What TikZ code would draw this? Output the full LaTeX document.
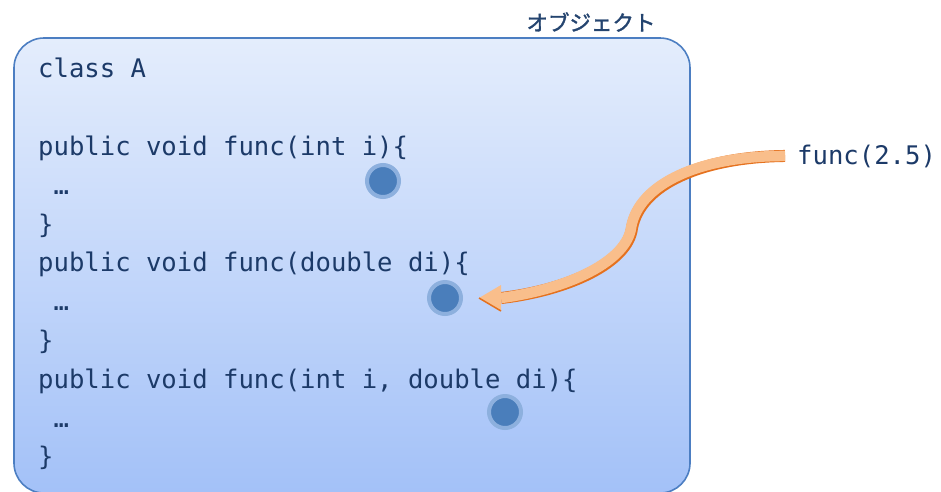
\documentclass[tikz,border=0pt]{standalone}
\usepackage{fontspec}
\newfontfamily\codefont{DejaVu Sans Mono}
\newfontfamily\jpfont[FakeBold=1.6]{Noto Sans CJK JP}
\usetikzlibrary{calc}
\definecolor{txt}{HTML}{1C3A68}
\definecolor{jptxt}{HTML}{24446F}
\definecolor{boxtop}{HTML}{E4EDFC}
\definecolor{boxbot}{HTML}{A3C1F8}
\definecolor{boxedge}{HTML}{4C7EC2}
\definecolor{dotin}{HTML}{4A7EBB}
\definecolor{dotring}{HTML}{8DB0DE}
\definecolor{orlight}{HTML}{F9BE8B}
\definecolor{ordark}{HTML}{E5711E}
\tikzset{
  code/.style={anchor=base west, inner sep=0pt, text=txt, font=\codefont\fontsize{25.6}{30}\selectfont},
  dotnode/.style={circle, draw=dotring, line width=4pt, fill=dotin, minimum size=32pt, inner sep=0pt},
}
\begin{document}
\begin{tikzpicture}[x=1pt,y=-1pt]
\useasboundingbox (0,0) rectangle (941,491);
\clip (0,0) rectangle (941,491);
\shadedraw[top color=boxtop, bottom color=boxbot, draw=boxedge, line width=1.6pt, rounded corners=30pt] (14,38) rectangle (690,493);
\node[text=jptxt, font=\jpfont\fontsize{21.5}{24}\selectfont, inner sep=0pt] (title) at (591,22) {オブジェクト};
\node[code] (l0) at (38,77.8) {class A};
\node[code] (l2) at (38,155.4) {public void func(int i)\{};
\node[code] (l3) at (38,194.2) {\ …};
\node[code] (l4) at (38,233.0) {\}};
\node[code] (l5) at (38,271.8) {public void func(double di)\{};
\node[code] (l6) at (38,310.6) {\ …};
\node[code] (l7) at (38,349.4) {\}};
\node[code] (l8) at (38,388.2) {public void func(int i, double di)\{};
\node[code] (l9) at (38,427.0) {\ …};
\node[code] (l10) at (38,465.8) {\}};
\node[dotnode] (d1) at (383,181) {};
\node[dotnode] (d2) at (445,298) {};
\node[dotnode] (d3) at (505,412) {};
\node[code, inner sep=6pt] (f) at (791,164) {func(2.5)};
\coordinate (s) at ($(f.west)+(-6,0)$);
\coordinate (e) at ($(d2.east)+(16,0)$);
\coordinate (hb) at ($(e)+(22,0)$);
% shaft
\draw[ordark, line width=12pt] (s) .. controls (700,157) and (640,185) .. (632,228) .. controls (628,262) and (570,290) .. (hb);
\begin{scope}[shift={(-0.8,-1.2)}]
\draw[orlight, line width=10.5pt] (s) .. controls (700,157) and (640,185) .. (632,228) .. controls (628,262) and (570,290) .. (hb);
\end{scope}
% head
\fill[orlight] (e) -- ($(hb)+(0,-13)$) -- ($(hb)+(0,13)$) -- cycle;
\draw[ordark, line width=1.5pt] (e) -- ($(hb)+(0,13)$);
\end{tikzpicture}
\end{document}
